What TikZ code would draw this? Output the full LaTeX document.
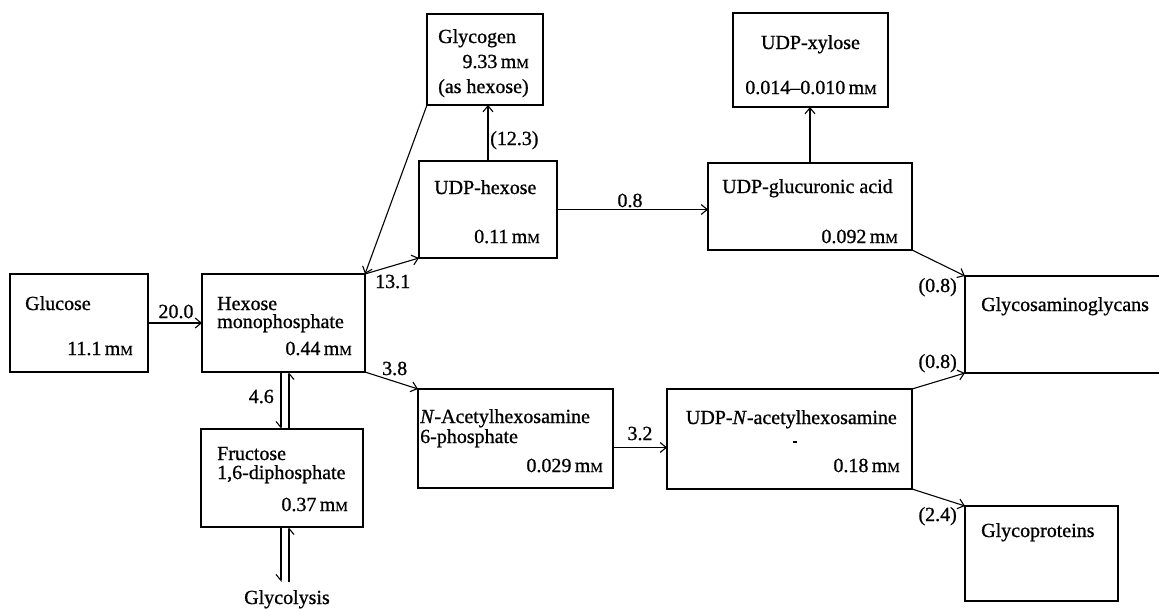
\documentclass[tikz,border=0pt]{standalone}
\usepackage{fontspec}
\setmainfont{Liberation Serif}[FakeBold=0.9]
\usetikzlibrary{arrows.meta}
\newcommand{\mmol}{m{\fontsize{14}{14}\selectfont M}}
\begin{document}
\begin{tikzpicture}[x=1pt,y=-1pt,
  box/.style={draw, line width=1.2pt, inner sep=0pt, outer sep=0pt},
  lbl/.style={inner sep=0pt, font=\fontsize{20}{22}\selectfont},
  flow/.style={line width=1.1pt, -{Straight Barb[length=6pt,width=10pt]}},
  half/.style={line width=1.1pt, -{Straight Barb[harpoon,swap,length=6pt,width=10pt]}}]
\useasboundingbox (0,0) rectangle (1159,608);

% boxes
\node[box, minimum width=138pt, minimum height=98pt] (glc) at (79,323) {};
\node[box, minimum width=163pt, minimum height=98pt] (hmp) at (283.5,323) {};
\node[box, minimum width=162pt, minimum height=98pt] (fdp) at (282,478) {};
\node[box, minimum width=116pt, minimum height=91pt] (gly) at (485,59.5) {};
\node[box, minimum width=138pt, minimum height=97pt] (udph) at (488,209.5) {};
\node[box, minimum width=155pt, minimum height=94pt] (udpx) at (810.5,60) {};
\node[box, minimum width=204pt, minimum height=87pt] (udpg) at (810,206.5) {};
\node[box, minimum width=205pt, minimum height=97pt] (gag) at (1067.5,324.5) {};
\node[box, minimum width=195pt, minimum height=99pt] (nah) at (515.5,438.5) {};
\node[box, minimum width=245pt, minimum height=100pt] (udpn) at (789.5,439) {};
\node[box, minimum width=153pt, minimum height=95pt] (gp) at (1041.5,553.5) {};

% texts in boxes
\node[lbl, anchor=base west] (glc-a) at (25,310) {Glucose};
\node[lbl, anchor=base east] (glc-b) at (133,355) {11.1\,\mmol};

\node[lbl, anchor=base west] (hmp-a) at (217,310) {Hexose};
\node[lbl, anchor=base west] (hmp-b) at (217,328) {monophosphate};
\node[lbl, anchor=base east] (hmp-c) at (352,355) {0.44\,\mmol};

\node[lbl, anchor=base west] (fdp-a) at (217,460) {Fructose};
\node[lbl, anchor=base west] (fdp-b) at (217,479) {1,6-diphosphate};
\node[lbl, anchor=base east] (fdp-c) at (348,511) {0.37\,\mmol};

\node[lbl, anchor=base west] (gly-a) at (438,43) {Glycogen};
\node[lbl, anchor=base east] (gly-b) at (529,68) {9.33\,\mmol};
\node[lbl, anchor=base west] (gly-c) at (438,93) {(as hexose)};

\node[lbl, anchor=base west] (udph-a) at (434,194) {UDP-hexose};
\node[lbl, anchor=base east] (udph-b) at (540,243) {0.11\,\mmol};

\node[lbl, anchor=base] (udpx-a) at (810.5,49) {UDP-xylose};
\node[lbl, anchor=base] (udpx-b) at (811,94) {0.014--0.010\,\mmol};

\node[lbl, anchor=base west] (udpg-a) at (722,193) {UDP-glucuronic acid};
\node[lbl, anchor=base east] (udpg-b) at (898,243) {0.092\,\mmol};

\node[lbl, anchor=base west] (gag-a) at (981,311) {Glycosaminoglycans};

\node[lbl, anchor=base west] (nah-a) at (420,423) {\textit{N}-Acetylhexosamine};
\node[lbl, anchor=base west] (nah-b) at (420,443) {6-phosphate};
\node[lbl, anchor=base east] (nah-c) at (603,472) {0.029\,\mmol};

\node[lbl, anchor=base east] (udpn-a) at (897,424) {UDP-\textit{N}-acetylhexosamine};
\node[lbl, anchor=base east] (udpn-b) at (900,472) {0.18\,\mmol};
\draw[line width=1.2pt] (793,442) -- (797,442);

\node[lbl, anchor=base west] (gp-a) at (981,537) {Glycoproteins};

\node[lbl, anchor=base] (glyco) at (287,604) {Glycolysis};

% connectors
\draw[flow] (glc.east) -- (hmp.west);
\draw[flow] (gly.south west) -- (hmp.north east);
\draw[flow] (hmp.north east) -- (udph.south west);
\draw[flow] (udph.north) -- (udph.north |- gly.south);
\draw[flow] (udph.east) -- (udph.east -| udpg.west);
\draw[flow] (udpg.north) -- (udpg.north |- udpx.south);
\draw[flow] (udpg.south east) -- (gag.north west);
\draw[flow] (udpn.north east) -- (gag.south west);
\draw[flow] (udpn.south east) -- (gp.north west);
\draw[flow] (hmp.south east) -- (nah.north west);
\draw[flow] ([yshift=-9pt]nah.east) -- ([yshift=-9pt]nah.east -| udpn.west);

\coordinate (gend-l) at (281,582);
\coordinate (gend-r) at (289,582);
\draw[half] ([xshift=-2.5pt]hmp.south) -- ([xshift=-2.5pt]hmp.south |- fdp.north);
\draw[half] ([xshift=5.5pt]hmp.south |- fdp.north) -- ([xshift=5.5pt]hmp.south);
\draw[half] ([xshift=-2.5pt]hmp.south |- fdp.south) -- (gend-l);
\draw[half] (gend-r) -- ([xshift=5.5pt]hmp.south |- fdp.south);

% flux labels
\node[lbl, anchor=base] (l20) at (176,318) {20.0};
\node[lbl, anchor=base west] (l131) at (375,288) {13.1};
\node[lbl, anchor=base west] (l123) at (490,145) {(12.3)};
\node[lbl, anchor=base] (l08) at (630,207) {0.8};
\node[lbl, anchor=base west] (l38) at (382,375) {3.8};
\node[lbl, anchor=base] (l32) at (640,440) {3.2};
\node[lbl, anchor=base east] (l46) at (274,403) {4.6};
\node[lbl, anchor=base east] (l08a) at (957,292) {(0.8)};
\node[lbl, anchor=base east] (l08b) at (957,368) {(0.8)};
\node[lbl, anchor=base east] (l24) at (957,521) {(2.4)};
\end{tikzpicture}
\end{document}
